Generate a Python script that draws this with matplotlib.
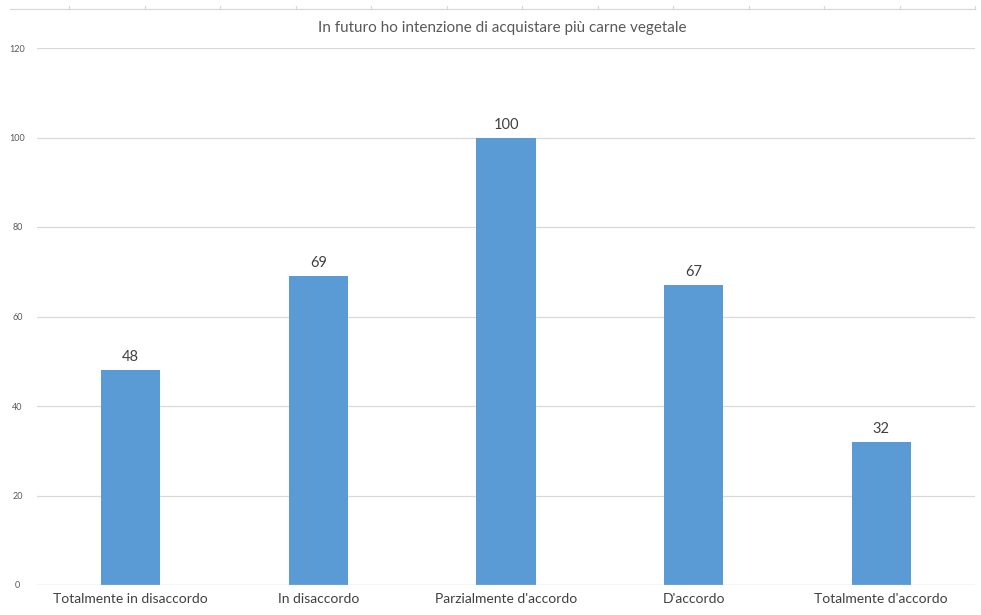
import matplotlib
matplotlib.use("Agg")
import matplotlib.pyplot as plt
from matplotlib.lines import Line2D

categories = ["Totalmente in disaccordo", "In disaccordo", "Parzialmente d'accordo",
              "D'accordo", "Totalmente d'accordo"]
values = [48, 69, 100, 67, 32]
yticks = [0, 20, 40, 60, 80, 100, 120]
title = "In futuro ho intenzione di acquistare più carne vegetale"

plt.rcParams["font.family"] = ["Lato", "DejaVu Sans"]

W, H = 981, 615
fig = plt.figure(figsize=(W / 100, H / 100), dpi=100)
ax = fig.add_axes([37 / W, 1 - 585 / H, (975 - 37) / W, (585 - 48) / H])

x = range(len(categories))
bars = ax.bar(x, values, width=0.315, color="#5b9bd5", zorder=3)
for b, v in zip(bars, values):
    ax.text(b.get_x() + b.get_width() / 2, v + 1.3, str(v), ha="center", va="bottom",
            fontsize=10.5, color="#404040")

ax.set_xlim(-0.5, len(categories) - 0.5)
ax.set_ylim(0, 120)
ax.set_yticks(yticks)
ax.set_yticklabels([str(t) for t in yticks], fontsize=6.5, color="#595959")
ax.set_xticks(list(x))
ax.set_xticklabels(categories, fontsize=10, color="#404040")
ax.tick_params(axis="both", length=0)
ax.tick_params(axis="x", pad=6)
ax.tick_params(axis="y", pad=14)
for lbl in ax.get_yticklabels():
    lbl.set_horizontalalignment("center")
ax.yaxis.grid(True, color="#d9d9d9", linewidth=0.9, zorder=0)
for s in ax.spines.values():
    s.set_visible(False)
ax.axhline(0, color="#d9d9d9", linewidth=0.9, zorder=4)

fig.text(502 / W, 1 - 28 / H, title, ha="center", va="center",
         fontsize=11, color="#595959")

# frame line across the top with small column marks
ytop = 1 - 9 / H
fig.add_artist(Line2D([10 / W, 975 / W], [ytop, ytop], color="#d9d9d9", linewidth=0.9))
px = 69.0
while px <= 976:
    fig.add_artist(Line2D([px / W, px / W], [ytop, ytop + 3 / H], color="#d9d9d9",
                          linewidth=0.9))
    px += 75.5

fig.savefig("out.png", dpi=100)
